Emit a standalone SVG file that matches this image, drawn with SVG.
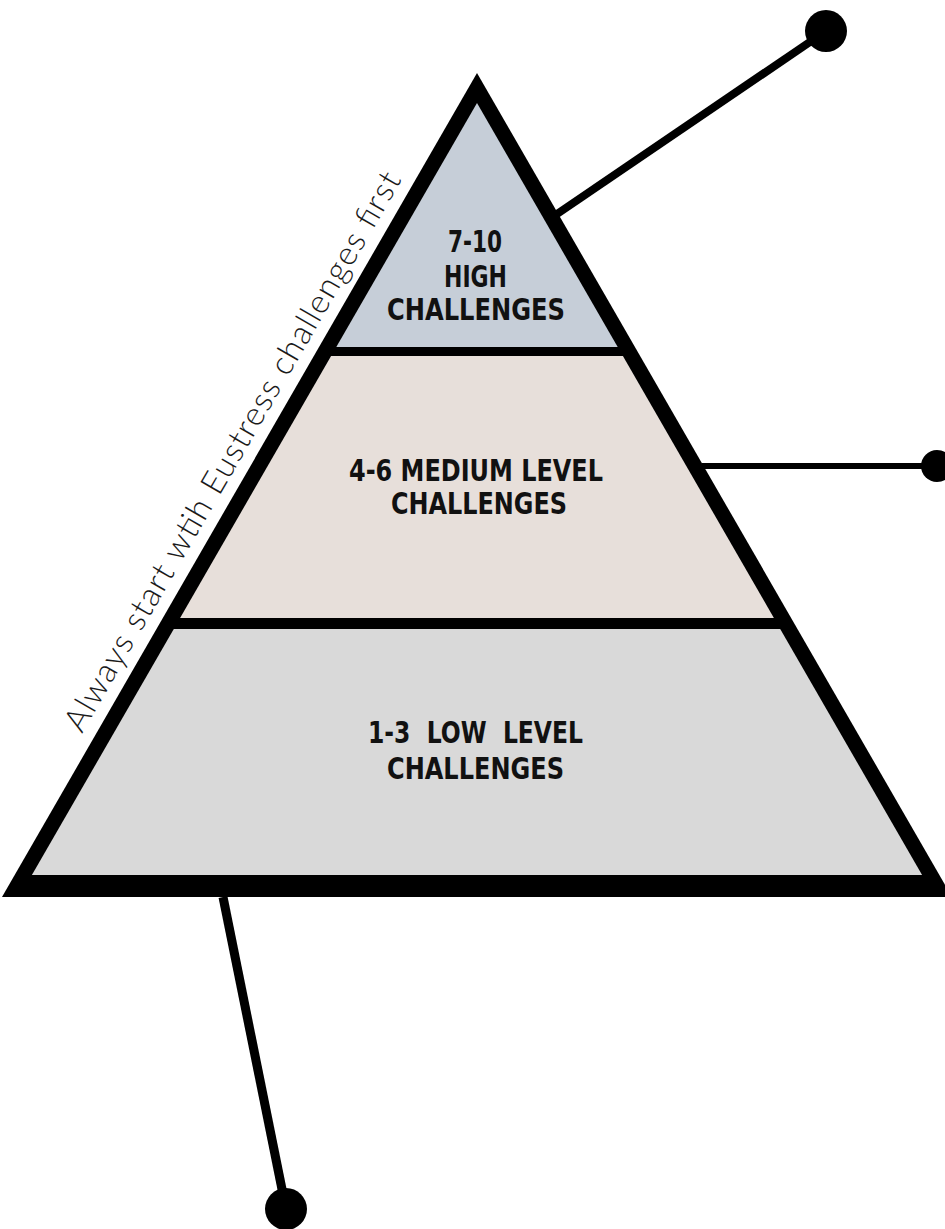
<svg xmlns="http://www.w3.org/2000/svg" width="945" height="1229" viewBox="0 0 945 1229">
  <style>
    .tier-label { font-family: "DejaVu Sans Condensed", "DejaVu Sans", sans-serif; font-weight: bold; font-size: 30px; fill: #111111; }
    .side-note { font-family: Lato, "Open Sans", sans-serif; font-weight: 300; font-size: 33px; fill: #1a1a1a; }
    .link { stroke: #000000; stroke-linecap: butt; fill: none; }
    .dot { fill: #000000; }
  </style>
  <rect width="945" height="1229" fill="#ffffff"/>

  <!-- connectors: a line from the pyramid edge to a round end dot -->
  <g id="connectors">
    <line class="link" x1="557" y1="214" x2="826" y2="31" stroke-width="8"/>
    <circle class="dot" cx="826" cy="31" r="21"/>
    <line class="link" x1="702" y1="466" x2="937" y2="466" stroke-width="6"/>
    <circle class="dot" cx="937" cy="466" r="16"/>
    <line class="link" x1="223" y1="897" x2="286" y2="1209" stroke-width="9"/>
    <circle class="dot" cx="286" cy="1209" r="21"/>
  </g>

  <!-- pyramid outline -->
  <g id="pyramid">
    <polygon points="477,73 952,897 2,897" fill="#000000"/>
  </g>

  <!-- tiers -->
  <g id="tier-high">
    <polygon points="477,103 617.7,347 336.3,347" fill="#c6ced8"/>
    <text class="tier-label" x="448" y="252" textLength="54" lengthAdjust="spacingAndGlyphs">7-10</text>
    <text class="tier-label" x="444" y="287" textLength="63" lengthAdjust="spacingAndGlyphs">HIGH</text>
    <text class="tier-label" x="387" y="320" textLength="178" lengthAdjust="spacingAndGlyphs">CHALLENGES</text>
  </g>

  <g id="tier-medium">
    <polygon points="331.1,356 622.9,356 773.9,618 180.1,618" fill="#e7dfda"/>
    <text class="tier-label" x="349" y="481" textLength="254" lengthAdjust="spacingAndGlyphs">4-6 MEDIUM LEVEL</text>
    <text class="tier-label" x="391" y="514" textLength="176" lengthAdjust="spacingAndGlyphs">CHALLENGES</text>
  </g>

  <g id="tier-low">
    <polygon points="173.8,629 780.2,629 922.1,875 31.9,875" fill="#d9d9d9"/>
    <text class="tier-label" x="368" y="743" textLength="215" lengthAdjust="spacingAndGlyphs" xml:space="preserve">1-3  LOW  LEVEL</text>
    <text class="tier-label" x="387" y="779" textLength="177" lengthAdjust="spacingAndGlyphs">CHALLENGES</text>
  </g>

  <!-- note along the left edge -->
  <g id="side-note">
    <text class="side-note" transform="translate(82,734) rotate(-60)" x="0" y="0" textLength="640" lengthAdjust="spacing">Always start wtih Eustress challenges first</text>
  </g>
</svg>
